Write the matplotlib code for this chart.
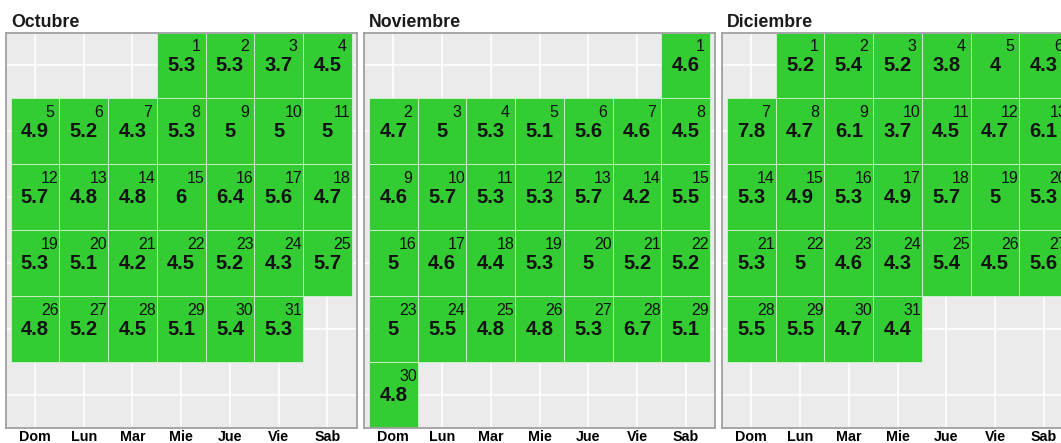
import numpy as np
import matplotlib
matplotlib.use('Agg')
import matplotlib.pyplot as plt

plt.rcParams['font.family'] = ['Liberation Sans', 'DejaVu Sans']

# calendar data
months = ['Octubre', 'Noviembre', 'Diciembre']
firstWeekday = [3, 6, 1]          # 0 = Dom ... 6 = Sab
dayNames = ['Dom', 'Lun', 'Mar', 'Mie', 'Jue', 'Vie', 'Sab']

octValues = [5.3, 5.3, 3.7, 4.5,
             4.9, 5.2, 4.3, 5.3, 5, 5, 5,
             5.7, 4.8, 4.8, 6, 6.4, 5.6, 4.7,
             5.3, 5.1, 4.2, 4.5, 5.2, 4.3, 5.7,
             4.8, 5.2, 4.5, 5.1, 5.4, 5.3]
novValues = [4.6,
             4.7, 5, 5.3, 5.1, 5.6, 4.6, 4.5,
             4.6, 5.7, 5.3, 5.3, 5.7, 4.2, 5.5,
             5, 4.6, 4.4, 5.3, 5, 5.2, 5.2,
             5, 5.5, 4.8, 4.8, 5.3, 6.7, 5.1,
             4.8]
dicValues = [5.2, 5.4, 5.2, 3.8, 4, 4.3,
             7.8, 4.7, 6.1, 3.7, 4.5, 4.7, 6.1,
             5.3, 4.9, 5.3, 4.9, 5.7, 5, 5.3,
             5.3, 5, 4.6, 4.3, 5.4, 4.5, 5.6,
             5.5, 5.5, 4.7, 4.4]
allValues = [octValues, novValues, dicValues]

W, H = 1061, 443
fig = plt.figure(figsize=(W / 100, H / 100), dpi=100)

panelLeft = [5.7, 364.0, 722.0]
panelW = 351.0
panelTop, panelBot = 32.5, 428.3

for m, name in enumerate(months):
    ax = fig.add_axes([panelLeft[m] / W, (H - panelBot) / H,
                       panelW / W, (panelBot - panelTop) / H])
    ax.set_facecolor('#ebebeb')
    vals = np.array(allValues[m])
    days = np.arange(1, len(vals) + 1)
    slot = firstWeekday[m] + days - 1
    cols = slot % 7
    rows = slot // 7

    ax.bar(cols, 1, width=1, bottom=rows - 0.5, color='#33cc33',
           edgecolor='#d5f0d5', linewidth=0.6, zorder=2)
    for c, r, d, v in zip(cols, rows, days, vals):
        ax.text(c + 0.3, r - 0.29, str(d), ha='center', va='center',
                fontsize=11.5, color='#111111', zorder=3)
        ax.text(c, r, f'{v:g}', ha='center', va='center',
                fontsize=14.5, fontweight='bold', color='#111111', zorder=3)

    ax.set_xlim(-0.6, 6.6)
    ax.set_ylim(5.5, -0.5)
    ax.set_xticks(range(7))
    ax.set_xticklabels(dayNames, fontsize=10.3, fontweight='bold', color='black')
    ax.set_yticks(range(6))
    ax.set_yticklabels([])
    ax.tick_params(length=0, pad=1)
    ax.grid(True, color='white', linewidth=1.1)
    ax.set_axisbelow(True)
    for s in ax.spines.values():
        s.set_color('#a0a0a0')
        s.set_linewidth(1.3)

    fig.text((panelLeft[m] + 5.3) / W, 1 - 26.7 / H, name, ha='left',
             va='baseline', fontsize=12.8, fontweight='bold', color='#1a1a1a')

fig.savefig('out.png', dpi=100)
